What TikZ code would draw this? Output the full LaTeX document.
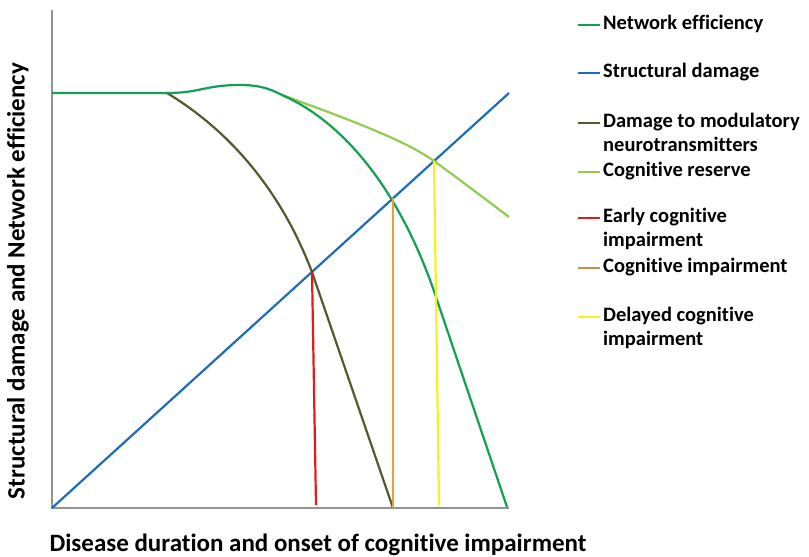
\documentclass[tikz,border=0pt]{standalone}
\usepackage{fontspec}
\setmainfont[Ligatures=NoCommon]{Carlito}
\usetikzlibrary{positioning}

\definecolor{netgreen}{HTML}{12A150}
\definecolor{damageblue}{HTML}{1F6DB4}
\definecolor{modolive}{HTML}{56582E}
\definecolor{reservegreen}{HTML}{92CC50}
\definecolor{earlyred}{HTML}{E21B1B}
\definecolor{impairorange}{HTML}{E8A133}
\definecolor{delayyellow}{HTML}{F6F21E}
\definecolor{legorange}{HTML}{D08A4A}

\begin{document}
\begin{tikzpicture}[
    x=1pt, y=-1pt,
    axis/.style={draw=gray!85, line width=2.6pt},
    curve/.style={line width=2.2pt},
    neteff/.style={curve, draw=netgreen},
    structdmg/.style={curve, draw=damageblue},
    moddmg/.style={curve, draw=modolive},
    reserve/.style={curve, draw=reservegreen},
    earlyci/.style={curve, draw=earlyred},
    cogimp/.style={curve, draw=impairorange},
    delayci/.style={curve, draw=delayyellow},
    legtext/.style={
        anchor=north west,
        inner sep=0pt,
        align=left,
        font=\fontsize{20.5}{24}\selectfont\bfseries
    },
    axislabel/.style={
        inner sep=0pt,
        font=\fontsize{25}{28}\selectfont\bfseries
    }
]
\useasboundingbox (0,0) rectangle (809,557);

% Axes
\coordinate (origin) at (52,508);
\coordinate (ytop) at (52,10);
\coordinate (xend) at (509,508);
\draw[axis] (ytop) -- (origin) -- (xend);

% Crossing points with structural damage
\coordinate (early) at (312,272);
\coordinate (impair) at (393,198);
\coordinate (delayed) at (434,161);
\coordinate (split) at (282,95);

% Structural damage
\draw[structdmg] (origin) -- (509,93);

% Cognitive reserve
\draw[reserve] (split) .. controls (345,118) and (405,140) .. (delayed)
    .. controls (460,180) .. (509,217);

% Damage to modulatory neurotransmitters
\draw[moddmg] (167,93) .. controls (215,122) and (275,175) .. (early) -- (393,508);

% Network efficiency
\draw[neteff] (52,93) -- (167,93) .. controls (200,93) and (205,85) .. (240,85)
    .. controls (262,85) and (272,90) .. (split)
    .. controls (350,125) and (404,200) .. (437,300) -- (507,507);

% Onset lines
\draw[earlyci] (early) -- (316,505);
\draw[cogimp] (impair) -- (393,508);
\draw[delayci] (delayed) -- (439,505);

% Axis labels
\node[axislabel] (xlabel) at (318,545) {Disease duration and onset of cognitive impairment};
\node[axislabel, rotate=90] (ylabel) at (18,281) {Structural damage and Network efficiency};

% Legend
\node[legtext] (lgnet) at (603,15) {Network efficiency};
\node[legtext] (lgdmg) at (603,63) {Structural damage};
\node[legtext] (lgmod) at (603,113) {Damage to modulatory\\neurotransmitters};
\node[legtext] (lgres) at (603,162) {Cognitive reserve};
\node[legtext] (lgearly) at (603,208) {Early cognitive\\impairment};
\node[legtext] (lgimp) at (603,258) {Cognitive impairment};
\node[legtext] (lgdelay) at (603,307) {Delayed cognitive\\impairment};

\draw[neteff] ([xshift=-25pt,yshift=-10pt]lgnet.north west) -- ++(22,0);
\draw[structdmg] ([xshift=-25pt,yshift=-10pt]lgdmg.north west) -- ++(22,0);
\draw[moddmg] ([xshift=-25pt,yshift=-10pt]lgmod.north west) -- ++(22,0);
\draw[reserve] ([xshift=-25pt,yshift=-10pt]lgres.north west) -- ++(22,0);
\draw[earlyci] ([xshift=-25pt,yshift=-10pt]lgearly.north west) -- ++(22,0);
\draw[curve, draw=legorange] ([xshift=-25pt,yshift=-10pt]lgimp.north west) -- ++(22,0);
\draw[delayci] ([xshift=-25pt,yshift=-10pt]lgdelay.north west) -- ++(22,0);

\end{tikzpicture}
\end{document}
